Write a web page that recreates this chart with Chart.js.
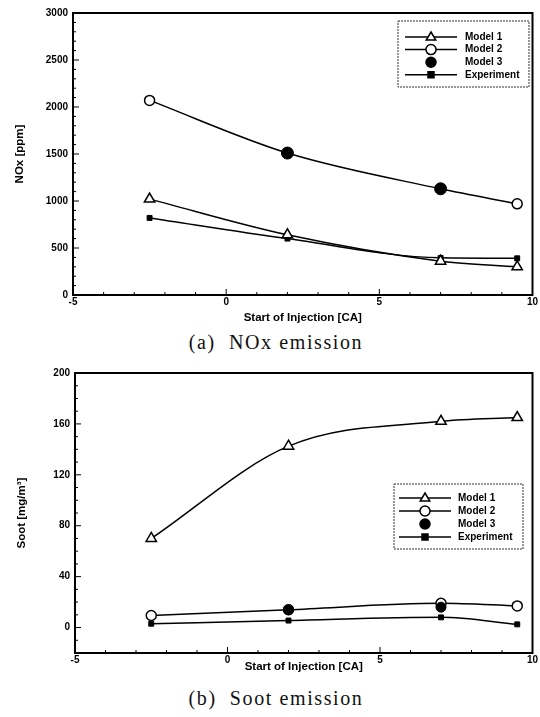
<!DOCTYPE html>
<html>
<head>
<meta charset="utf-8">
<script src="https://cdn.jsdelivr.net/npm/chart.js@4.4.1/dist/chart.umd.min.js"></script>
<style>
  html, body { margin: 0; padding: 0; background: #fff; }
  #wrap { position: relative; width: 540px; height: 717px; overflow: hidden; }
  .cv { position: absolute; left: 0; }
  .cap { position: absolute; left: 6px; width: 540px; text-align: center; line-height: 22px;
         font-family: "Liberation Serif", "DejaVu Serif", serif; font-size: 20px; color: #111;
         letter-spacing: 1.6px; }
</style>
</head>
<body>
<div id="wrap">
  <div class="cv" style="top:0px;width:540px;height:327px;"><canvas id="c1"></canvas></div>
  <div class="cap" style="top:331px;">(a)&nbsp; NOx emission</div>
  <div class="cv" style="top:360px;width:540px;height:316px;"><canvas id="c2"></canvas></div>
  <div class="cap" style="top:687px;">(b)&nbsp; Soot emission</div>
</div>
<script>
// ---------- data ----------
const injectionTiming = [-2.5, 2, 7, 9.5];
const seriesLabels = ['Model 1', 'Model 2', 'Model 3', 'Experiment'];

const noxModel1 = [1020, 640, 360, 300];
const noxModel2 = [2070, 1510, 1130, 970];
const noxModel3 = [null, 1510, 1130, null];
const noxExperiment = [820, 600, 395, 390];

const sootModel1 = [70, 142.5, 162, 165];
const sootModel2 = [9.5, 14, 19, 17];
const sootModel3 = [null, 14, 16, null];
const sootExperiment = [3, 5.5, 8, 2.5];

const xTicks = [-5, 0, 5, 10];
const noxTicks = [0, 500, 1000, 1500, 2000, 2500, 3000];
const sootTicks = [0, 40, 80, 120, 160, 200];

// ---------- helpers ----------
const FONT = '"Liberation Sans", Arial, sans-serif';
const pts = (ys) => injectionTiming.map((x, i) => ({ x: x, y: ys[i] }));

function drawMarker(ctx, style, x, y, r, fill) {
  ctx.save();
  ctx.lineWidth = 1.5;
  ctx.strokeStyle = '#000';
  ctx.fillStyle = fill;
  ctx.beginPath();
  if (style === 'triangle') {
    ctx.moveTo(x, y - r);
    ctx.lineTo(x + r * 0.95, y + r * 0.6);
    ctx.lineTo(x - r * 0.95, y + r * 0.6);
    ctx.closePath();
  } else if (style === 'rect') {
    ctx.rect(x - r, y - r, 2 * r, 2 * r);
  } else {
    ctx.arc(x, y, r, 0, Math.PI * 2);
  }
  ctx.fill();
  ctx.stroke();
  ctx.restore();
}

const framePlugin = {
  id: 'frame',
  afterDraw(chart, args, opts) {
    const ctx = chart.ctx, a = chart.chartArea;
    const xs = chart.scales.x, ys = chart.scales.y;
    ctx.save();
    ctx.strokeStyle = '#000';
    ctx.lineWidth = 1;
    for (let v = xs.min; v <= xs.max + 1e-9; v += opts.xMinor) {
      const px = xs.getPixelForValue(v);
      const major = Math.abs(v / opts.xMajor - Math.round(v / opts.xMajor)) < 1e-6;
      const L = major ? 6 : 3;
      ctx.beginPath(); ctx.moveTo(px, a.bottom); ctx.lineTo(px, a.bottom - L); ctx.stroke();
    }
    for (let v = ys.min; v <= ys.max + 1e-9; v += opts.yMinor) {
      const py = ys.getPixelForValue(v);
      const major = Math.abs(v / opts.yMajor - Math.round(v / opts.yMajor)) < 1e-6;
      const L = major ? 6 : 3;
      ctx.beginPath(); ctx.moveTo(a.left, py); ctx.lineTo(a.left + L, py); ctx.stroke();
    }
    ctx.lineWidth = 2;
    ctx.strokeRect(a.left, a.top, a.right - a.left, a.bottom - a.top);
    ctx.restore();
  }
};

const legendPlugin = {
  id: 'boxLegend',
  afterDraw(chart, args, opts) {
    const ctx = chart.ctx;
    ctx.save();
    ctx.strokeStyle = '#333';
    ctx.lineWidth = 1;
    ctx.setLineDash([2, 1]);
    ctx.strokeRect(opts.x, opts.y, opts.w, opts.h);
    ctx.setLineDash([]);
    ctx.font = 'bold 10px ' + FONT;
    ctx.textBaseline = 'middle';
    chart.data.datasets.forEach((ds, i) => {
      const ry = opts.y + opts.firstRow + i * opts.rowGap;
      if (ds.showLine !== false) {
        ctx.strokeStyle = '#000';
        ctx.lineWidth = 1.5;
        ctx.beginPath(); ctx.moveTo(opts.lineX1, ry); ctx.lineTo(opts.lineX2, ry); ctx.stroke();
      }
      const mx = (opts.lineX1 + opts.lineX2) / 2;
      drawMarker(ctx, ds.pointStyle, mx, ry, ds.pointStyle === 'rect' ? 3 : 5, ds.pointBackgroundColor);
      ctx.fillStyle = '#000';
      ctx.fillText(ds.label, opts.textX, ry);
    });
    ctx.restore();
  }
};

function makeChart(id, data, yMin, yMax, yTicks, yTitle, leftPad, yAxisW, xAxisH, legendOpts, yMinor, yMajor, m3r) {
  const ds = [
    { label: seriesLabels[0], data: pts(data[0]), pointStyle: 'triangle', pointRadius: 6,
      pointBackgroundColor: '#fff', borderColor: '#000', pointBorderColor: '#000', pointBorderWidth: 1.5,
      borderWidth: 1.5, cubicInterpolationMode: 'monotone', order: 3 },
    { label: seriesLabels[1], data: pts(data[1]), pointStyle: 'circle', pointRadius: 5,
      pointBackgroundColor: '#fff', borderColor: '#000', pointBorderColor: '#000', pointBorderWidth: 1.5,
      borderWidth: 1.5, cubicInterpolationMode: 'monotone', order: 2 },
    { label: seriesLabels[2], data: pts(data[2]), pointStyle: 'circle', pointRadius: m3r, showLine: false,
      pointBackgroundColor: '#000', borderColor: '#000', pointBorderColor: '#000', pointBorderWidth: 1,
      order: 1 },
    { label: seriesLabels[3], data: pts(data[3]), pointStyle: 'rect', pointRadius: 3.5,
      pointBackgroundColor: '#000', borderColor: '#000', pointBorderColor: '#000', pointBorderWidth: 1,
      borderWidth: 1.5, cubicInterpolationMode: 'monotone', order: 4 }
  ];
  return new Chart(document.getElementById(id), {
    type: 'line',
    data: { datasets: ds },
    plugins: [framePlugin, legendPlugin],
    options: {
      responsive: true, maintainAspectRatio: false, animation: false,
      layout: { padding: { left: leftPad, right: 7, top: 13, bottom: 0 } },
      plugins: {
        legend: { display: false }, tooltip: { enabled: false },
        frame: { xMinor: 1, xMajor: 5, yMinor: yMinor, yMajor: yMajor },
        boxLegend: legendOpts
      },
      scales: {
        x: {
          type: 'linear', min: -5, max: 10,
          afterBuildTicks: (s) => { s.ticks = xTicks.map(v => ({ value: v })); },
          afterFit: (s) => { s.height = xAxisH; },
          grid: { display: false, drawTicks: false, tickLength: 0 }, border: { display: false },
          ticks: { padding: 1, font: { family: FONT, size: 10, weight: 'bold' }, color: '#000', maxRotation: 0,
                   callback: (v) => String(v) },
          title: { display: true, text: 'Start of Injection [CA]', font: { family: FONT, size: 11.5, weight: 'bold' },
                   color: '#000', padding: { top: 0, bottom: 2 } }
        },
        y: {
          type: 'linear', min: yMin, max: yMax,
          afterBuildTicks: (s) => { s.ticks = yTicks.map(v => ({ value: v })); },
          afterFit: (s) => { s.width = yAxisW; },
          grid: { display: false, drawTicks: false, tickLength: 0 }, border: { display: false },
          ticks: { padding: 5, font: { family: FONT, size: 10, weight: 'bold' }, color: '#000',
                   callback: (v) => String(v) },
          title: { display: true, text: yTitle, font: { family: FONT, size: 11.5, weight: 'bold' },
                   color: '#000', padding: { top: 0, bottom: 0 } }
        }
      }
    }
  });
}

makeChart('c1', [noxModel1, noxModel2, noxModel3, noxExperiment], 0, 3000, noxTicks, 'NOx [ppm]',
  13, 60, 32,
  { x: 398, y: 21, w: 131, h: 66, firstRow: 16, rowGap: 12.6, lineX1: 405, lineX2: 457, textX: 465 },
  100, 500, 6);

makeChart('c2', [sootModel1, sootModel2, sootModel3, sootExperiment], -20, 200, sootTicks, 'Soot [mg/m\u00B3]',
  15, 60, 23,
  { x: 394, y: 124, w: 129, h: 65, firstRow: 14, rowGap: 13, lineX1: 399, lineX2: 451, textX: 458 },
  10, 40, 5);
</script>
</body>
</html>
